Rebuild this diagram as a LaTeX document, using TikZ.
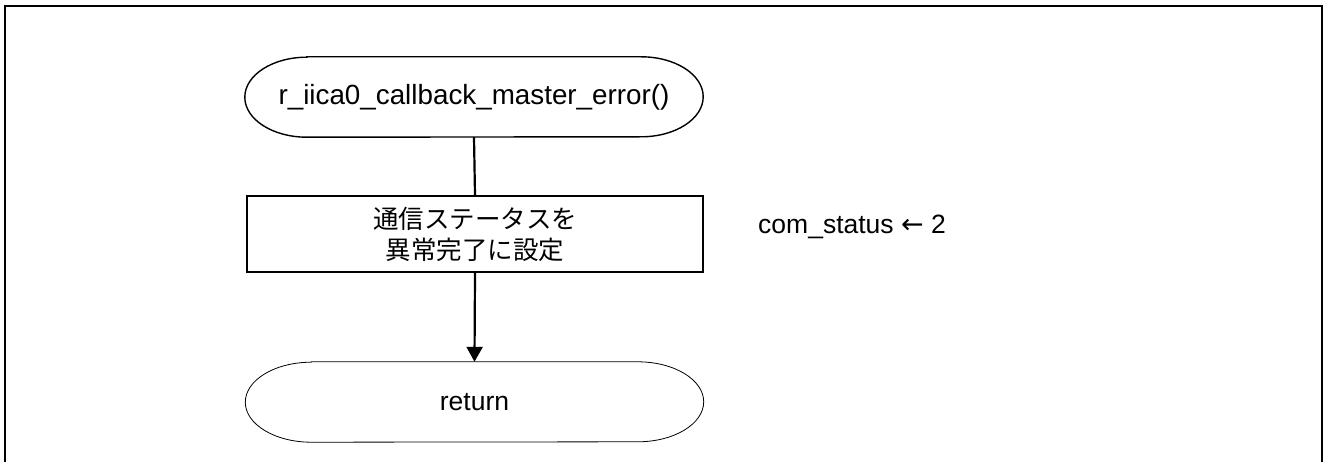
\documentclass[tikz,border=0pt]{standalone}
\usepackage{fontspec}
\setmainfont{Liberation Sans}
\newfontfamily\jpfont{Noto Sans CJK JP}
\newfontfamily\dvfont{DejaVu Sans}
\usetikzlibrary{arrows.meta}
\tikzset{
  termtext/.style={rectangle, inner sep=0pt, minimum width=458pt, minimum height=80pt, font=\fontsize{27.8}{32}\selectfont},
  procbox/.style={rectangle, draw, line width=1.4pt, inner sep=0pt, minimum width=456pt, minimum height=76pt, align=center, font=\jpfont\fontsize{25.5}{31}\selectfont},
  flowline/.style={line width=2.2pt},
  flowarrow/.style={line width=2.2pt, -{Triangle[length=15pt,width=16pt]}},
  frameline/.style={line width=2pt},
  plain/.style={inner sep=0pt, font=\fontsize{26.5}{32}\selectfont}
}
\begin{document}
\begin{tikzpicture}[x=1pt,y=-1pt]
\useasboundingbox (0,0) rectangle (1325,462);
\clip (0,0) rectangle (1325,462);
% outer frame (bottom edge lies outside the picture)
\coordinate (fbl) at (5,480);
\coordinate (ftl) at (5,6);
\coordinate (ftr) at (1322,6);
\coordinate (fbr) at (1322,480);
\draw[frameline] (fbl) -- (ftl) -- (ftr) -- (fbr);
% start terminal
\node[termtext] (start) at (474,97) {r\_iica0\_callback\_master\_error()};
\draw[line width=1.4pt] ([xshift=62pt]start.north west) -- ([xshift=-62pt]start.north east)
  arc[start angle=90,end angle=-90,x radius=62pt,y radius=40pt]
  -- ([xshift=62pt]start.south west)
  arc[start angle=270,end angle=90,x radius=62pt,y radius=40pt] -- cycle;
% process box
\node[procbox] (proc) at (475,234) {通信ステータスを\\異常完了に設定};
% return terminal
\node[termtext, font=\fontsize{26.5}{32}\selectfont] (ret) at (474.5,402) {return};
\draw[line width=0.8pt] ([xshift=66pt]ret.north west) -- ([xshift=-66pt]ret.north east)
  arc[start angle=90,end angle=-90,x radius=66pt,y radius=40pt]
  -- ([xshift=66pt]ret.south west)
  arc[start angle=270,end angle=90,x radius=66pt,y radius=40pt] -- cycle;
% connectors
\draw[flowline] (start.south) -- (proc.north);
\draw[flowarrow] (proc.south) -- (ret.north);
% side note
\node[plain, anchor=base west] (note) at (758,234) {com\_status {\dvfont\fontsize{27}{30}\selectfont ←} 2};
\end{tikzpicture}
\end{document}
